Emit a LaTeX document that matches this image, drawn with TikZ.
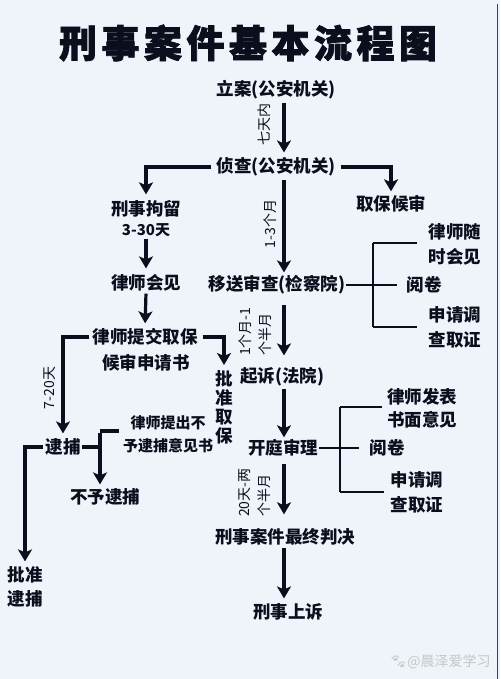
\documentclass[tikz,border=0pt]{standalone}
\usepackage{fontspec}
\setmainfont{Noto Sans CJK SC}
\newfontfamily\titlefont{Noto Sans CJK SC}[BoldFeatures={FakeBold=2}]
\newfontfamily\emojifont{Noto Emoji}
\usetikzlibrary{arrows.meta}
\definecolor{bg}{HTML}{EEF4FA}
\definecolor{ink}{HTML}{0B0E1C}
\begin{document}
\begin{tikzpicture}[x=1pt,y=-1pt,
  every node/.style={inner sep=1pt, text=ink, font=\bfseries\fontsize{17.5}{19}\selectfont},
  small/.style={font=\bfseries\fontsize{15}{17}\selectfont},
  vtext/.style={align=center, font=\bfseries\fontsize{17.5}{19}\selectfont},
  rot/.style={rotate=90, align=left, font=\fontsize{14}{20}\selectfont},
  arr/.style={draw=ink, line width=3.2pt, -{Stealth[length=12pt,width=14pt,inset=3pt]}},
  ln/.style={draw=ink, line width=3.2pt},
  thinln/.style={draw=ink, line width=1.6pt},
]
\fill[bg] (0,0) rectangle (500,679);
\useasboundingbox (0,0) rectangle (500,679);
\draw[draw=ink!80, line width=1.2pt] (497.5,4) -- (497.5,679);

% title
\node (title) at (248,43) {\titlefont\bfseries\fontsize{38}{40}\selectfont 刑\hspace{4.5pt}事\hspace{4.5pt}案\hspace{4.5pt}件\hspace{4.5pt}基\hspace{4.5pt}本\hspace{4.5pt}流\hspace{4.5pt}程\hspace{4.5pt}图};

\coordinate (cx) at (284,0);

% centre column
\node (lian) at (276,90) {立案(公安机关)};
\node (zc) at (276,167) {侦查(公安机关)};
\node (ys) at (277,285) {移送审查(检察院)};
\node (qs) at (282,377) {起诉(法院)};
\node (kt) at (283,448) {开庭审理};
\node (pj) at (285,537) {刑事案件最终判决};
\node (ss) at (288,612) {刑事上诉};

\draw[arr, shorten <=2pt, shorten >=4pt] (lian.south -| cx) -- (zc.north -| cx);
\draw[arr, shorten <=2pt, shorten >=2pt] (zc.south -| cx) -- (ys.north -| cx);
\draw[arr, shorten <=9pt, shorten >=11pt] (ys.south -| cx) -- (qs.north -| cx);
\draw[arr, shorten <=1pt, shorten >=1pt] (qs.south -| cx) -- (kt.north -| cx);
\draw[arr, shorten <=6pt, shorten >=13pt] (kt.south -| cx) -- (pj.north -| cx);
\draw[arr, shorten <=1pt, shorten >=4pt] (pj.south -| cx) -- (ss.north -| cx);

\node[rot] (t1) at (264,125) {七天内};
\node[rot] (t2) at (270,224) {1-3个月};
\node[rot, anchor=west] (t3) at (255,357) {1个月-1\\个半月};
\node[rot, anchor=west] (t4) at (255,518) {20天-两\\个半月};

% left column
\node (jl) at (146,209) {刑事拘留};
\node[small] (d330) at (146,230) {3-30天};
\node (ls) at (146,283) {律师会见};
\node (tj1) at (145,337) {律师提交取保};
\node (tj2) at (146,363) {候审申请书};
\node[vtext] (pzqb) at (224,407) {批\\准\\取\\保};
\node (db) at (63,447) {逮捕};
\node[small] (tc1) at (168,423) {律师提出不};
\node[small] (tc2) at (168,446) {予逮捕意见书};
\node (by) at (105,497) {不予逮捕};
\node[vtext, font=\bfseries\fontsize{17.5}{24}\selectfont] (pzdb) at (25,587) {批准\\逮捕};
\node (qbhs) at (391,204) {取保候审};

\draw[arr, shorten <=4pt, shorten >=5pt] (zc.west) -| (jl.north);
\draw[arr, shorten <=4pt, shorten >=3pt] (zc.east) -| (qbhs.north);
\draw[arr, shorten <=1pt, shorten >=5pt] (d330.south) -- (ls.north);
\draw[arr, shorten <=1pt, shorten >=4pt] (ls.south) -- (tj1.north);
\draw[arr, shorten <=2pt, shorten >=4pt] (tj1.west) -| (db.north);
\draw[arr, shorten <=4pt, shorten >=4pt] (tj1.east) -| (pzqb.north);
\node[rot] (t5) at (50,388) {7-20天};

\coordinate (jt) at (100,431);
\draw[ln] (db.east) -- (db.east -| jt);
\draw[ln, shorten >=10pt] (jt) -- (jt -| tc1.west);
\draw[arr, shorten >=3pt] ([yshift=-1.6pt]jt) -- (jt |- by.north);
\draw[arr, shorten <=1pt, shorten >=4pt] (db.west) -| (pzdb.north);

% right brackets
\node (r1) at (455,232) {律师随};
\node (r2) at (455,257) {时会见};
\node (r3) at (424,285) {阅卷};
\node (r4) at (455,315) {申请调};
\node (r5) at (455,340) {查取证};
\coordinate (b1) at (373,0);
\draw[thinln, shorten >=8pt] (ys.east) -- (r3.west);
\draw[thinln] (b1 |- 0,243) -- (b1 |- 0,327);
\draw[thinln, shorten >=11pt] (b1 |- 0,243) -- (r1.west |- 0,243);
\draw[thinln, shorten >=11pt] (b1 |- 0,327) -- (r4.west |- 0,327);

\node (s1) at (422,397) {律师发表};
\node (s2) at (422,420) {书面意见};
\node (s3) at (387,448) {阅卷};
\node (s4) at (417,480) {申请调};
\node (s5) at (417,505) {查取证};
\coordinate (b2) at (340,0);
\draw[thinln, shorten >=9pt] (kt.east) -- (s3.west);
\draw[thinln] (b2 |- 0,407) -- (b2 |- 0,492);
\draw[thinln, shorten >=4pt] (b2 |- 0,407) -- (s1.west |- 0,407);
\draw[thinln, shorten >=6pt] (b2 |- 0,492) -- (s4.west |- 0,492);

% watermark
\node[text=gray!45, font=\fontsize{14}{16}\selectfont] (wm) at (440,662) {{\emojifont 🐾}@晨泽爱学习};
\end{tikzpicture}
\end{document}
